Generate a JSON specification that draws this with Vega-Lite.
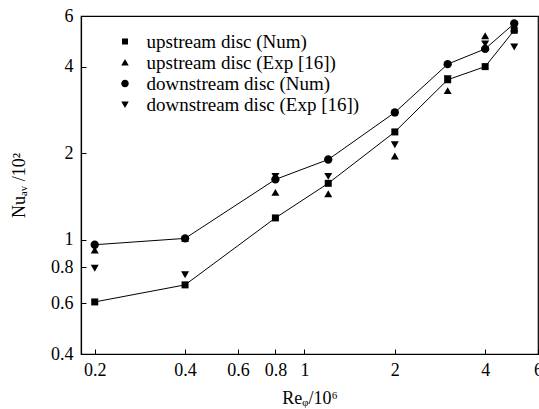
{
  "$schema": "https://vega.github.io/schema/vega-lite/v6.json",
  "width": 457,
  "height": 338,
  "autosize": {"type": "none"},
  "padding": {"left": 81, "top": 16, "right": 1, "bottom": 55},
  "background": "white",
  "config": {
    "font": "Liberation Serif",
    "view": {"stroke": "black", "strokeWidth": 1.2},
    "axis": {
      "domainColor": "black", "domainWidth": 1.2,
      "tickColor": "black", "tickSize": -5, "tickWidth": 1,
      "labelColor": "black", "labelFont": "Liberation Serif", "labelFontSize": 18,
      "titleFont": "Liberation Serif", "titleFontSize": 18, "titleFontWeight": "normal", "titleColor": "black",
      "grid": false, "labelFlush": false, "labelOverlap": false, "labelBound": false
    }
  },
  "data": {
    "values": [
      {"re": 0.2, "nu": 0.607, "series": "upstream disc (Num)"},
      {"re": 0.4, "nu": 0.696, "series": "upstream disc (Num)"},
      {"re": 0.8, "nu": 1.19, "series": "upstream disc (Num)"},
      {"re": 1.2, "nu": 1.57, "series": "upstream disc (Num)"},
      {"re": 2, "nu": 2.37, "series": "upstream disc (Num)"},
      {"re": 3, "nu": 3.6, "series": "upstream disc (Num)"},
      {"re": 4, "nu": 4.0, "series": "upstream disc (Num)"},
      {"re": 5, "nu": 5.35, "series": "upstream disc (Num)"},
      {"re": 0.2, "nu": 0.92, "series": "upstream disc (Exp [16])"},
      {"re": 0.4, "nu": 1.01, "series": "upstream disc (Exp [16])"},
      {"re": 0.8, "nu": 1.46, "series": "upstream disc (Exp [16])"},
      {"re": 1.2, "nu": 1.445, "series": "upstream disc (Exp [16])"},
      {"re": 2, "nu": 1.955, "series": "upstream disc (Exp [16])"},
      {"re": 3, "nu": 3.3, "series": "upstream disc (Exp [16])"},
      {"re": 4, "nu": 5.12, "series": "upstream disc (Exp [16])"},
      {"re": 5, "nu": 5.45, "series": "upstream disc (Exp [16])"},
      {"re": 0.2, "nu": 0.96, "series": "downstream disc (Num)"},
      {"re": 0.4, "nu": 1.01, "series": "downstream disc (Num)"},
      {"re": 0.8, "nu": 1.62, "series": "downstream disc (Num)"},
      {"re": 1.2, "nu": 1.9, "series": "downstream disc (Num)"},
      {"re": 2, "nu": 2.77, "series": "downstream disc (Num)"},
      {"re": 3, "nu": 4.08, "series": "downstream disc (Num)"},
      {"re": 4, "nu": 4.61, "series": "downstream disc (Num)"},
      {"re": 5, "nu": 5.65, "series": "downstream disc (Num)"},
      {"re": 0.2, "nu": 0.795, "series": "downstream disc (Exp [16])"},
      {"re": 0.4, "nu": 0.755, "series": "downstream disc (Exp [16])"},
      {"re": 0.8, "nu": 1.66, "series": "downstream disc (Exp [16])"},
      {"re": 1.2, "nu": 1.66, "series": "downstream disc (Exp [16])"},
      {"re": 2, "nu": 2.14, "series": "downstream disc (Exp [16])"},
      {"re": 3, "nu": 3.63, "series": "downstream disc (Exp [16])"},
      {"re": 4, "nu": 4.8, "series": "downstream disc (Exp [16])"},
      {"re": 5, "nu": 4.68, "series": "downstream disc (Exp [16])"}
    ]
  },
  "encoding": {
    "x": {
      "field": "re", "type": "quantitative",
      "scale": {"type": "log", "domain": [0.18, 6], "nice": false, "zero": false},
      "axis": {"title": "Reᵩ/10⁶", "values": [0.2, 0.4, 0.6, 0.8, 1, 2, 4, 6], "format": "~g", "labelPadding": 12, "titlePadding": 10}
    },
    "y": {
      "field": "nu", "type": "quantitative",
      "scale": {"type": "log", "domain": [0.4, 6], "nice": false, "zero": false},
      "axis": {"title": "Nuₐᵥ /10²", "values": [0.4, 0.6, 0.8, 1, 2, 4, 6], "format": "~g", "labelPadding": 13, "titlePadding": 22}
    }
  },
  "layer": [
    {
      "transform": [{"filter": "indexof(datum.series, 'Num') >= 0"}],
      "mark": {"type": "line", "color": "black", "strokeWidth": 1},
      "encoding": {"detail": {"field": "series"}}
    },
    {
      "transform": [{"filter": "datum.series === 'upstream disc (Exp [16])'"}],
      "mark": {"type": "point", "filled": true, "color": "black", "opacity": 1, "shape": "triangle-up", "size": 64}
    },
    {
      "transform": [{"filter": "datum.series === 'downstream disc (Exp [16])'"}],
      "mark": {"type": "point", "filled": true, "color": "black", "opacity": 1, "shape": "triangle-down", "size": 64}
    },
    {
      "transform": [{"filter": "datum.series === 'upstream disc (Num)'"}],
      "mark": {"type": "point", "filled": true, "color": "black", "opacity": 1, "shape": "square", "size": 49}
    },
    {
      "transform": [{"filter": "datum.series === 'downstream disc (Num)'"}],
      "mark": {"type": "point", "filled": true, "color": "black", "opacity": 1, "shape": "circle", "size": 69}
    },
    {
      "mark": {"type": "point", "filled": true, "fill": "black", "stroke": "black", "strokeWidth": 1, "opacity": 0, "size": 100},
      "encoding": {
        "shape": {
          "field": "series",
          "scale": {
            "domain": ["upstream disc (Num)", "upstream disc (Exp [16])", "downstream disc (Num)", "downstream disc (Exp [16])"],
            "range": [
              "M -3.5 0 L 3.5 0 M -0.6 -0.6 L 0.6 -0.6 L 0.6 0.6 L -0.6 0.6 Z",
              "M 0 -0.7 L 0.75 0.6 L -0.75 0.6 Z",
              "M -3.5 0 L 3.5 0 M -0.75 0 A 0.75 0.75 0 1 0 0.75 0 A 0.75 0.75 0 1 0 -0.75 0 Z",
              "M 0 0.7 L 0.75 -0.6 L -0.75 -0.6 Z"
            ]
          },
          "legend": {
            "title": null, "orient": "none", "legendX": 34.5, "legendY": 16,
            "symbolSize": 100, "symbolFillColor": "black", "symbolStrokeColor": "black",
            "symbolStrokeWidth": 1, "symbolOpacity": 1,
            "labelFont": "Liberation Serif", "labelFontSize": 19, "labelColor": "black",
            "labelOffset": 12, "rowPadding": 1, "padding": 0, "labelLimit": 400
          }
        }
      }
    }
  ]
}
